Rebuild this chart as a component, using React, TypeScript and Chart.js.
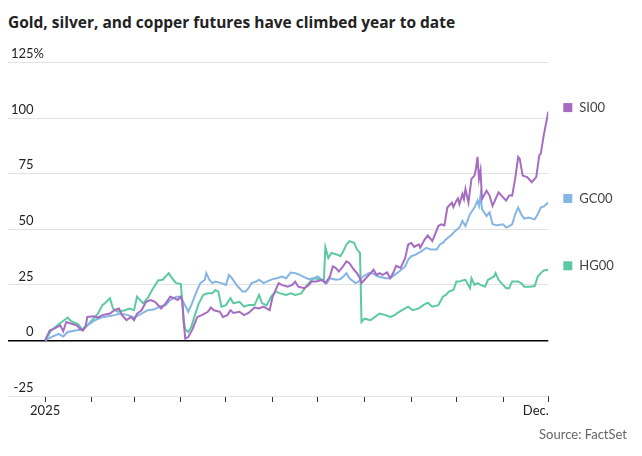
import { useEffect, useRef } from 'react';
import { Chart, registerables } from 'chart.js';

Chart.register(...registerables);

const title = 'Gold, silver, and copper futures have climbed year to date';
const source = 'Source: FactSet';

// x axis: days since Jan 1, 2025; ticks at month starts
const monthTicks = [0, 31, 59, 90, 120, 151, 181, 212, 243, 273, 304, 334];
const xTickLabels: Record<number, string> = { 0: '2025', 334: 'Dec.' };
const yTicks = [-25, 0, 25, 50, 75, 100, 125];
const yTopSuffix = '%';

const seriesNames = ['SI00', 'GC00', 'HG00'];
const seriesColors = ['#a56cc1', '#85b5e5', '#5dc9a3'];

const siDays = [0,3,6,10,12,14,17,21,23,25,27,28,32,35,38,43,46,49,51,54,57,59,61,64,67,70,73,77,80,83,86,88,90,91,92,93,95,98,101,104,108,110,112,116,118,121,123,125,129,132,135,139,142,145,149,151,153,155,157,161,164,166,168,172,175,177,180,184,186,189,191,193,195,197,200,202,205,207,209,210,212,215,218,220,222,224,227,229,231,233,236,239,241,243,245,248,249,252,254,257,261,263,265,267,270,271,273,274,275,277,278,279,281,283,285,286,287,288,289,290,293,295,297,299,301,304,306,308,310,312,314,315,317,320,323,326,328,329,331,334];
const siValues = [0,4.5,5.3,6.8,4.2,8.3,7.6,6.8,5.3,4.5,6.8,10.6,10.9,10.3,11.4,12.1,13.6,14.4,11.4,9.1,10.6,9.1,12.1,13.6,17.4,18.2,17.4,14.4,16.7,19.7,18.9,18.2,19.7,18,8,0.8,1.5,5.3,10.6,11.4,12.9,14.8,13.6,12.9,10.6,11.4,13.6,12.4,12.9,11.4,12.4,14.8,14.4,15.2,13.6,19.7,22.7,25.8,25,24.2,25,26.5,24.2,23.5,25,26.5,26.5,27.3,25.8,28.8,33.3,32.6,31,32.6,35.6,34.8,31.8,30.3,28,25.8,27.3,29.5,31.8,29.5,30.3,29.5,30.6,28,30.3,33.6,32.6,37.1,43.2,43.9,42.1,43.2,41.7,45.5,47.3,44.7,51.5,52.3,51.8,59.8,62,60,62.9,63.9,61.4,65.9,63.6,68.2,62.1,72.7,74.2,77.3,82.6,72.7,76.5,63.6,67.4,65.2,60.6,63.6,66.7,64.4,62.9,65.2,65.2,72.7,82.6,81.8,74.2,73.5,71.2,73.5,83.3,84.1,92.4,103];

const gcDays = [0,4,9,12,15,20,24,28,33,37,42,46,50,55,59,64,68,72,77,80,83,87,89,91,94,95,97,100,103,106,107,109,111,113,117,120,122,124,127,129,131,133,135,137,140,142,145,147,151,154,157,160,163,166,169,172,175,178,181,185,187,189,193,196,198,200,202,206,208,211,215,218,221,226,229,232,235,239,241,243,246,250,253,256,260,262,264,266,270,272,275,277,279,282,285,287,288,289,290,293,295,297,300,304,306,308,310,312,314,316,318,321,325,327,329,331,334];
const gcValues = [0,1.5,3,1.8,3.8,4.5,4.8,6.8,9.1,10.3,10.9,11.4,12.1,11.4,10.3,12.1,13.6,13.9,15.5,15.9,18.2,19.7,19.7,18.2,14.4,12.9,15.9,21.2,25.8,27.3,30.3,27.3,25.8,26.5,25.8,25,29.5,28,25,23.5,22,22,23.5,25.8,26.5,27.3,25.8,26.5,27.6,28,28.8,28,30.6,30.3,29.5,28.5,27.6,28,28.8,26.5,25.8,28,27.3,27.6,28.8,30.3,28,25.8,26.5,28.8,30.3,30,28.8,28,28,29.5,31,33.3,36.4,37.9,38.6,40.2,41.7,40.9,40.9,43.2,43.9,45.5,47.7,49.2,50.8,53.8,51.5,56.8,59.8,62.9,60.6,65.2,59.1,56,57.6,52.3,51.8,52.3,50.8,51.5,52.3,56.8,59.8,56.8,54.8,55.3,54.5,56.8,59.8,60.3,62.1];

const hgDays = [0,4,9,15,17,22,25,28,32,35,38,40,43,45,48,53,56,59,61,65,68,71,75,78,81,82,85,87,90,91,92,93,95,97,99,102,105,108,111,113,115,117,120,123,125,129,132,135,139,142,144,147,150,153,156,160,163,166,170,174,177,179,183,185,186,188,190,194,196,198,200,202,205,207,209,210,212,216,219,222,226,229,232,235,239,241,244,248,251,254,257,261,264,266,268,271,273,275,277,279,282,283,285,287,289,292,294,296,298,299,301,304,306,308,310,314,316,318,322,325,327,329,331,334];
const hgValues = [0,4.5,7.3,10.3,8.8,7.3,4.5,6.8,9.8,12,15.9,17,19,14.4,12.9,13.6,14.4,13.6,19.7,16.7,19,22.7,27,27.3,29.5,30.3,27.3,25.8,25.5,18,9,5,3.8,6,10.6,16.7,20.5,21.2,21.2,22.7,22,15.2,15.9,19,16.7,17.4,15.2,15.9,15.9,20.5,16.7,15.9,19.7,22,21.2,20.5,21.2,20.5,21.2,25,27.3,28,27.3,26.5,42,37.1,39.4,38.6,37.9,40.2,43.2,44.7,43.9,40.9,39.4,8.3,9.8,9.1,10.6,12.1,11.4,10.6,11.4,12.9,14.4,15.2,13.6,14.4,15.9,17,15.2,15.9,19.7,20.5,22,22.7,26.5,26.5,27,27.3,23.5,28,25,25.8,25,24.2,27.3,28,28.8,30.3,27.3,25,23.5,23.5,26.5,26.5,25.8,24.2,24.2,24.5,28.8,30.3,31.5,31.8];

const FONT = 'Lato, "Noto Sans", sans-serif';
const TITLE_FONT = '"Open Sans", Lato, sans-serif';

function toPoints(days: number[], values: number[]) {
  return days.map((d, i) => ({ x: d, y: values[i] }));
}

const labelsPlugin = {
  id: 'customLabels',
  afterDraw(chart: any) {
    const { ctx, chartArea } = chart;
    const x = chart.scales.x;
    const y = chart.scales.y;
    ctx.save();
    ctx.font = `13px ${FONT}`;
    ctx.textBaseline = 'middle';
    ctx.fillStyle = '#222';
    // y labels: numbers right-aligned, above their gridlines
    const yRight = chartArea.left + 26;
    const topTick = yTicks[yTicks.length - 1];
    yTicks.forEach((v) => {
      const py = y.getPixelForValue(v) - 8.5;
      ctx.textAlign = 'right';
      ctx.fillText(String(v), yRight, py);
      if (v === topTick) {
        ctx.textAlign = 'left';
        ctx.fillText(yTopSuffix, yRight, py);
      }
    });
    // x labels
    const ly = chartArea.bottom + 15;
    monthTicks.forEach((t, i) => {
      const lab = xTickLabels[t];
      if (!lab) return;
      const isLast = i === monthTicks.length - 1;
      ctx.textAlign = isLast ? 'right' : 'center';
      ctx.fillText(lab, x.getPixelForValue(t) + (isLast ? 0.5 : 0), ly);
    });
    // end labels (legend)
    chart.data.datasets.forEach((ds: any) => {
      const last = ds.data[ds.data.length - 1];
      const py = y.getPixelForValue(last.y) - 4;
      const lx = chartArea.right + 15;
      ctx.fillStyle = ds.borderColor;
      ctx.fillRect(lx, py - 4.5, 9, 9);
      ctx.fillStyle = '#444';
      ctx.textAlign = 'left';
      ctx.fillText(ds.label, lx + 16, py);
    });
    ctx.restore();
  },
};

export default function App() {
  const ref = useRef<HTMLCanvasElement | null>(null);

  useEffect(() => {
    document.body.style.margin = '0';
    if (!ref.current) return;
    const seriesDays = [siDays, gcDays, hgDays];
    const seriesVals = [siValues, gcValues, hgValues];
    const chart = new Chart(ref.current, {
      type: 'line',
      data: {
        datasets: seriesNames.map((name, i) => ({
          label: name,
          data: toPoints(seriesDays[i], seriesVals[i]),
          borderColor: seriesColors[i],
          backgroundColor: seriesColors[i],
          borderWidth: 2,
          pointRadius: 0,
          tension: 0,
          fill: false,
        })),
      },
      options: {
        animation: false,
        responsive: false,
        devicePixelRatio: 1,
        layout: { padding: { left: 7.5, right: 93.7, top: 62.7, bottom: 54 } },
        plugins: { legend: { display: false }, tooltip: { enabled: false }, title: { display: false } },
        scales: {
          x: {
            type: 'linear',
            min: -25,
            max: 334,
            afterBuildTicks: (scale: any) => {
              scale.ticks = monthTicks.map((v) => ({ value: v }));
            },
            grid: { drawOnChartArea: false, drawTicks: true, tickLength: 6, color: '#333', lineWidth: 1 },
            border: { display: false },
            ticks: { display: false },
          },
          y: {
            min: -25,
            max: 125,
            afterBuildTicks: (scale: any) => {
              scale.ticks = yTicks.map((v) => ({ value: v }));
            },
            afterFit: (scale: any) => {
              scale.width = 0;
            },
            grid: {
              drawTicks: false,
              color: (c: any) => (c.tick && c.tick.value === 0 ? '#000' : '#e2e2e2'),
              lineWidth: (c: any) => (c.tick && c.tick.value === 0 ? 1.5 : 1),
            },
            border: { display: false },
            ticks: { display: false },
          },
        },
      },
      plugins: [labelsPlugin],
    });
    return () => chart.destroy();
  }, []);

  return (
    <div style={{ position: 'relative', width: 642, height: 456, background: '#fff' }}>
      <div
        style={{
          position: 'absolute',
          left: 8,
          top: 12,
          fontFamily: TITLE_FONT,
          fontWeight: 700,
          fontSize: 15.5,
          lineHeight: '20px',
          color: '#222',
          whiteSpace: 'nowrap',
        }}
      >
        {title}
      </div>
      <canvas ref={ref} width={642} height={456} style={{ position: 'absolute', left: 0, top: 0, width: 642, height: 456 }} />
      <div
        style={{
          position: 'absolute',
          right: 15,
          top: 425,
          fontFamily: FONT,
          fontSize: 13,
          lineHeight: '18px',
          color: '#666',
          whiteSpace: 'nowrap',
        }}
      >
        {source}
      </div>
    </div>
  );
}
